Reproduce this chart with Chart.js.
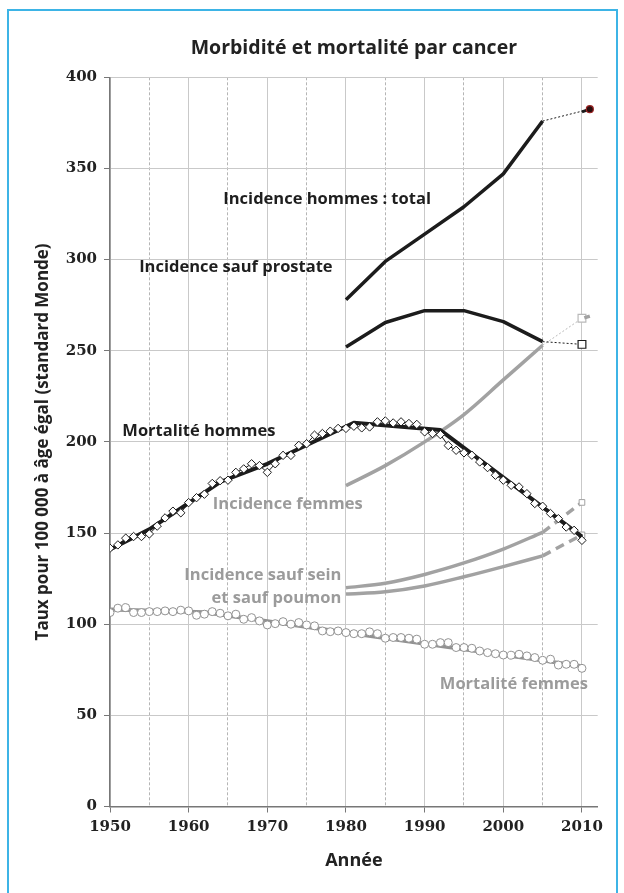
<!DOCTYPE html>
<html lang="fr">
<head>
<meta charset="utf-8">
<title>Morbidité et mortalité par cancer</title>
<script src="https://cdn.jsdelivr.net/npm/chart.js@4.4.1/dist/chart.umd.min.js"></script>
<style>
  html, body { margin: 0; padding: 0; background: #ffffff; overflow: hidden; }
  #wrap { position: relative; width: 624px; height: 893px; }
  #frame {
    position: absolute; left: 7px; top: 9px; width: 611px; height: 1000px;
    border: 2px solid #3db4e6; border-bottom: none; box-sizing: border-box;
  }
  #chart { position: absolute; left: 0; top: 0; }
</style>
</head>
<body>
<div id="wrap">
  <div id="frame"></div>
  <canvas id="chart" width="624" height="893"></canvas>
</div>
<script>
// ---- Incidence (every 5 years, 1980-2005) ----
const incYears = [1980, 1985, 1990, 1995, 2000, 2005];
const incHommesTotal = [278, 299, 314, 329, 347, 376];
const incSaufProstate = [252, 265.5, 272, 272, 266, 255];
const incFemmes = [176, 187, 200, 215, 234, 253];
const incSaufSein = [120, 122.5, 127.3, 133.6, 141.2, 150.4];
const incSaufSeinPoumon = [116.5, 117.8, 121, 126, 131.6, 137.5];

// ---- Projections (2005 -> 2010/2011) ----
const projTotalYears = [2005, 2011];
const projTotal = [376, 382.5];
const projTotalTipYears = [2010, 2011];
const projTotalTip = [381, 382.5];
const projYears = [2005, 2010];
const projProstate = [255, 253.5];
const projFemmes = [253, 267.8];
const projFemmesTipYears = [2010.3, 2011];
const projFemmesTip = [268, 269];
const projSaufSein = [150.4, 166.8];
const projSaufSeinPoumon = [137.5, 149];

// ---- Mortality (yearly, 1950-2010) ----
const mortYears = [];
for (let y = 1950; y <= 2010; y++) mortYears.push(y);
const mortHommes = [
  141.7, 143.5, 147.2, 148.1, 148.1, 149.5, 153.8, 158.3, 162.0, 161.1,
  166.7, 169.4, 171.3, 177.2, 178.7, 179.0, 183.3, 185.2, 188.0, 187.0,
  183.3, 188.0, 192.6, 192.6, 198.1, 199.0, 203.7, 204.6, 205.9, 207.4,
  207.4, 208.6, 207.7, 208.2, 211.0, 211.5, 210.4, 211.0, 210.1, 209.6,
  205.5, 204.6, 204.0, 198.0, 195.4, 194.0, 192.7, 189.0, 185.9, 181.7,
  179.0, 176.2, 175.3, 171.6, 166.2, 164.7, 160.7, 157.9, 153.3, 151.5,
  146.0
];
const mortFemmes = [
  106.4, 108.8, 109.1, 106.4, 106.4, 106.9, 106.9, 107.3, 106.9, 107.7,
  107.3, 104.9, 105.5, 106.9, 106.0, 104.6, 105.5, 102.7, 103.6, 101.8,
  99.6, 100.3, 101.4, 100.0, 100.9, 99.6, 99.1, 96.3, 95.9, 96.3,
  95.4, 94.8, 94.8, 95.8, 94.8, 92.3, 92.7, 92.7, 92.3, 91.8,
  89.0, 89.0, 89.9, 89.9, 87.2, 87.2, 86.8, 85.3, 84.4, 83.8,
  83.1, 83.0, 83.5, 82.6, 81.7, 80.2, 80.8, 77.6, 78.0, 78.0,
  75.8
];

// ---- Mortality trends (segmented) ----
const trendHommesYears = [1950, 1955, 1964, 1970, 1981, 1992, 2010];
const trendHommes = [141, 152, 178, 188, 210.5, 206.5, 148];
const trendFemmesYears = [1950, 1962, 1980, 2010];
const trendFemmes = [108, 106.5, 95.5, 77];

// ---- Axis ticks ----
const xLabelYears = [1950, 1960, 1970, 1980, 1990, 2000, 2010];
const yTicks = [0, 50, 100, 150, 200, 250, 300, 350, 400];

// ---- Curve labels ----
const curveLabels = [
  { text: 'Incidence hommes : total', x: 1977.6, y: 333.3, color: '#1e1e1e', align: 'center' },
  { text: 'Incidence sauf prostate', x: 1966.0, y: 296.0, color: '#1e1e1e', align: 'center' },
  { text: 'Mortalité hommes', x: 1961.3, y: 206.0, color: '#1e1e1e', align: 'center' },
  { text: 'Incidence femmes', x: 1972.6, y: 166.0, color: '#9b9b9b', align: 'center' },
  { text: 'Incidence sauf sein', x: 1979.4, y: 127.0, color: '#9b9b9b', align: 'right' },
  { text: 'et sauf poumon', x: 1979.4, y: 114.4, color: '#9b9b9b', align: 'right' },
  { text: 'Mortalité femmes', x: 2001.35, y: 67.2, color: '#9b9b9b', align: 'center' }
];

const pts = (xs, ys) => xs.map((x, i) => ({ x: x, y: ys[i] }));

const BLACK = '#1c1c1c';
const GREY = '#a2a2a2';
const GREY_DARK = '#929292';
const GREY_LIGHT = '#b9b9b9';
const LABEL_FONT = '"Open Sans", "DejaVu Sans", sans-serif';
const TICK_FONT = '"DejaVu Serif", serif';

const curveLabelPlugin = {
  id: 'curveLabels',
  afterDatasetsDraw(chart) {
    const { ctx, scales } = chart;
    ctx.save();
    ctx.font = 'bold 16.5px ' + LABEL_FONT;
    ctx.textBaseline = 'middle';
    curveLabels.forEach(l => {
      ctx.fillStyle = l.color;
      ctx.textAlign = l.align;
      ctx.fillText(l.text, scales.x.getPixelForValue(l.x), scales.y.getPixelForValue(l.y));
    });
    ctx.restore();
  }
};

const noPoints = { pointRadius: 0, pointHoverRadius: 0 };

const datasets = [
  // yearly mortality, men (diamonds)
  {
    data: pts(mortYears, mortHommes), borderColor: BLACK, borderWidth: 1,
    pointStyle: 'rectRot', pointRadius: 4.2, pointBackgroundColor: '#ffffff',
    pointBorderColor: BLACK, pointBorderWidth: 1, order: 1
  },
  { data: pts(trendHommesYears, trendHommes), borderColor: BLACK, borderWidth: 4, order: 2, ...noPoints },
  // yearly mortality, women (circles)
  {
    data: pts(mortYears, mortFemmes), borderColor: GREY_DARK, borderWidth: 1,
    pointStyle: 'circle', pointRadius: 4, pointBackgroundColor: '#ffffff',
    pointBorderColor: GREY_DARK, pointBorderWidth: 1, order: 3
  },
  { data: pts(trendFemmesYears, trendFemmes), borderColor: GREY_DARK, borderWidth: 4, order: 4, ...noPoints },

  // incidence, men
  { data: pts(incYears, incHommesTotal), borderColor: BLACK, borderWidth: 3.5, order: 5, ...noPoints },
  { data: pts(projTotalYears, projTotal), borderColor: BLACK, borderWidth: 1, borderDash: [2, 2], order: 6, ...noPoints },
  {
    data: pts(projTotalTipYears, projTotalTip), borderColor: BLACK, borderWidth: 3, order: 5,
    pointRadius: [0, 3.5], pointStyle: 'circle', pointBackgroundColor: '#2a0c0c',
    pointBorderColor: '#9a2424', pointBorderWidth: 1.2
  },
  { data: pts(incYears, incSaufProstate), borderColor: BLACK, borderWidth: 3.5, order: 5, ...noPoints },
  {
    data: pts(projYears, projProstate), borderColor: BLACK, borderWidth: 1, borderDash: [2, 2], order: 6,
    pointRadius: [0, 5.5], pointStyle: 'rect', pointBackgroundColor: '#ffffff',
    pointBorderColor: BLACK, pointBorderWidth: 1.2
  },

  // incidence, women
  { data: pts(incYears, incFemmes), borderColor: GREY, borderWidth: 3.5, cubicInterpolationMode: 'monotone', order: 7, ...noPoints },
  {
    data: pts(projYears, projFemmes), borderColor: GREY_LIGHT, borderWidth: 1, borderDash: [2, 2], order: 8,
    pointRadius: [0, 5.5], pointStyle: 'rect', pointBackgroundColor: '#ffffff',
    pointBorderColor: GREY_LIGHT, pointBorderWidth: 1.2
  },
  { data: pts(projFemmesTipYears, projFemmesTip), borderColor: GREY, borderWidth: 3.5, order: 7, ...noPoints },
  { data: pts(incYears, incSaufSein), borderColor: GREY, borderWidth: 3.5, cubicInterpolationMode: 'monotone', order: 7, ...noPoints },
  { data: pts(incYears, incSaufSeinPoumon), borderColor: GREY, borderWidth: 3.5, cubicInterpolationMode: 'monotone', order: 7, ...noPoints },
  {
    data: pts(projYears, projSaufSein), borderColor: GREY, borderWidth: 3.5, borderDash: [9, 6], order: 7,
    pointRadius: [0, 4], pointStyle: 'rect', pointBackgroundColor: '#ffffff',
    pointBorderColor: GREY, pointBorderWidth: 1
  },
  {
    data: pts(projYears, projSaufSeinPoumon), borderColor: GREY, borderWidth: 3.5, borderDash: [9, 6], order: 7,
    pointRadius: [0, 4], pointStyle: 'rect', pointBackgroundColor: '#ffffff',
    pointBorderColor: GREY, pointBorderWidth: 1
  }
];

new Chart(document.getElementById('chart'), {
  type: 'line',
  data: { datasets: datasets },
  options: {
    responsive: false,
    animation: false,
    events: [],
    layout: { padding: { left: 8, right: 26.3, top: 0, bottom: 0 } },
    elements: { line: { tension: 0, borderCapStyle: 'butt', borderJoinStyle: 'round' } },
    plugins: {
      legend: { display: false },
      tooltip: { enabled: false },
      title: {
        display: true,
        fullSize: false,
        text: 'Morbidité et mortalité par cancer',
        color: '#222222',
        font: { family: LABEL_FONT, weight: 'bold', size: 19.5 },
        padding: { top: 36.3, bottom: 17.6 }
      }
    },
    scales: {
      x: {
        type: 'linear',
        min: 1950,
        max: 2012,
        afterFit: s => { s.height = 86.5; },
        ticks: {
          stepSize: 5,
          includeBounds: false,
          autoSkip: false,
          maxRotation: 0,
          padding: 6,
          color: '#222222',
          font: { family: TICK_FONT, weight: 'bold', size: 15 },
          callback: v => (xLabelYears.includes(v) ? String(v) : '')
        },
        grid: {
          color: c => (c.tick && c.tick.value % 10 !== 0 ? '#b5b5b5' : '#c9c9c9'),
          lineWidth: 1,
          tickLength: 6,
          tickColor: c => (c.tick && c.tick.value % 10 !== 0 ? 'rgba(0,0,0,0)' : '#777777')
        },
        border: {
          color: '#777777',
          width: 1.5,
          dash: c => (c.tick && c.tick.value % 10 !== 0 ? [3, 2] : [])
        },
        title: {
          display: true,
          text: 'Année',
          color: '#222222',
          font: { family: LABEL_FONT, weight: 'bold', size: 18 },
          padding: { top: 0, bottom: 21 }
        }
      },
      y: {
        min: 0,
        max: 400,
        afterFit: s => { s.width = 102; },
        afterBuildTicks: s => { s.ticks = yTicks.map(v => ({ value: v })); },
        ticks: {
          padding: 7,
          color: '#222222',
          font: { family: TICK_FONT, weight: 'bold', size: 15 }
        },
        grid: { color: '#c9c9c9', lineWidth: 1, tickLength: 6, tickColor: '#777777' },
        border: { color: '#777777', width: 1.5 },
        title: {
          display: true,
          text: 'Taux pour 100 000 à âge égal (standard Monde)',
          color: '#222222',
          font: { family: LABEL_FONT, weight: 'bold', size: 17 },
          padding: { top: 24.5, bottom: 0 }
        }
      }
    }
  },
  plugins: [curveLabelPlugin]
});
</script>
</body>
</html>
